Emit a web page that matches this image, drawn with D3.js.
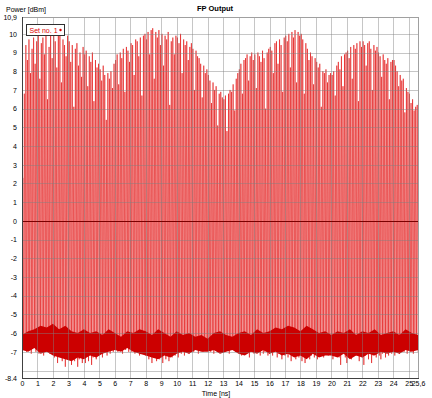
<!DOCTYPE html>
<html>
<head>
<meta charset="utf-8">
<script src="https://cdn.jsdelivr.net/npm/d3@7"></script>
<style>
  body { margin: 0; background: #fff; }
  svg { display: block; font-family: "Liberation Sans", Arial, sans-serif; }
</style>
</head>
<body>
<svg id="chart" width="432" height="398"></svg>
<script>
// Chart data
// -----------------------------------

// pulse peaks [dBm], one every 0.1 ns starting at 0.05 ns (one row per ns)
var peaks = [
  2.3, 6.8, 9.4, 8.6, 9.7, 7.9, 9.2, 9.8, 8.4, 9.6,
  9.9, 7.6, 9.5, 9.8, 8.9, 10.0, 6.5, 9.3, 9.9, 8.7,
  10.1, 9.6, 8.2, 9.9, 10.2, 7.4, 9.7, 9.4, 8.8, 9.9,
  9.6, 8.5, 9.4, 6.1, 9.2, 9.5, 8.3, 9.0, 7.7, 9.3,
  8.9, 9.1, 7.2, 8.8, 8.5, 9.0, 6.4, 8.6, 8.2, 8.4,
  8.1, 7.5, 8.3, 7.8, 5.4, 7.9, 7.6, 8.0, 7.1, 8.4,
  8.6, 8.9, 7.3, 9.0, 8.7, 9.2, 6.9, 9.3, 9.1, 8.5,
  9.5, 9.4, 7.8, 9.7, 9.6, 8.8, 9.8, 6.7, 9.9, 10.0,
  9.7, 10.1, 8.9, 10.2, 10.3, 7.6, 10.1, 9.8, 10.2, 9.4,
  10.0, 8.3, 9.9, 9.7, 10.1, 6.2, 9.6, 9.8, 8.9, 9.9,
  9.8, 9.5, 10.0, 7.9, 9.7, 9.4, 9.6, 8.6, 9.3, 9.5,
  9.2, 7.0, 9.1, 8.8, 8.7, 8.4, 6.6, 8.3, 7.9, 8.1,
  7.8, 7.5, 6.3, 7.4, 7.0, 7.2, 5.1, 6.8, 6.9, 6.6,
  6.5, 6.7, 4.8, 6.8, 7.0, 6.9, 7.3, 5.9, 7.6, 7.9,
  8.1, 8.4, 6.8, 8.6, 8.7, 8.9, 7.5, 8.8, 9.0, 8.6,
  8.9, 7.1, 9.0, 8.8, 8.5, 9.1, 8.7, 6.0, 9.0, 9.2,
  9.3, 9.1, 7.9, 9.5, 9.6, 8.4, 9.7, 9.4, 6.9, 9.8,
  9.9, 9.6, 10.0, 8.2, 10.1, 9.8, 10.2, 7.4, 10.1, 9.9,
  10.0, 9.7, 6.8, 9.5, 9.2, 8.6, 9.0, 8.8, 7.3, 8.7,
  8.5, 8.2, 8.4, 6.1, 8.0, 7.9, 8.1, 7.4, 7.8, 7.9,
  7.8, 8.0, 6.7, 8.3, 8.5, 8.1, 8.8, 7.2, 8.9, 9.0,
  9.1, 8.7, 9.3, 7.6, 9.4, 9.2, 9.5, 6.4, 9.6, 9.3,
  9.6, 9.4, 8.3, 9.5, 9.6, 9.2, 7.0, 9.4, 9.1, 9.3,
  9.0, 8.8, 7.7, 8.9, 8.6, 8.4, 8.7, 6.5, 8.5, 8.6,
  8.6, 8.3, 8.0, 7.2, 7.8, 7.5, 7.6, 5.8, 7.1, 6.9,
  6.8, 6.3, 6.5, 5.9, 6.1, 6.2
];

// troughs between pulses [dBm], one every 0.1 ns from 0 to 25.6 ns
var troughs = [
  -6.6, -6.9, -6.4, -7.0, -6.7, -6.5, -7.1, -6.8, -6.6, -7.0,
  -6.8, -7.1, -6.7, -6.9, -7.2, -6.6, -7.0, -6.8, -7.1, -6.9,
  -7.0, -7.3, -7.1, -7.6, -7.2, -7.0, -7.5, -7.3, -7.8, -7.1,
  -7.4, -7.2, -7.7, -7.0, -7.5, -7.3, -7.8, -7.4, -7.1, -7.6,
  -7.3, -7.6, -7.2, -7.5, -7.0, -7.7, -7.3, -7.1, -7.4, -7.2,
  -7.1, -6.9, -7.3, -7.0, -6.8, -7.2, -6.9, -7.1, -6.7, -7.0,
  -6.9, -6.6, -7.0, -6.8, -6.5, -7.1, -6.7, -6.9, -6.6, -7.0,
  -6.8, -7.0, -6.7, -7.1, -6.9, -6.6, -7.2, -6.8, -7.0, -6.9,
  -7.2, -6.9, -7.4, -7.1, -7.6, -7.3, -7.0, -7.5, -7.2, -7.4,
  -7.3, -7.6, -7.1, -7.4, -7.0, -7.5, -7.2, -7.3, -6.9, -7.2,
  -7.0, -7.3, -6.9, -7.1, -6.8, -7.2, -7.0, -6.8, -7.1, -6.9,
  -6.7, -7.0, -6.8, -6.6, -7.1, -6.9, -6.7, -7.0, -6.8, -6.6,
  -6.9, -6.7, -7.0, -6.8, -7.1, -6.6, -6.9, -7.0, -6.7, -6.8,
  -7.0, -6.8, -6.6, -6.9, -7.1, -6.7, -6.9, -6.8, -7.0, -6.7,
  -7.0, -6.8, -7.2, -6.9, -6.7, -7.1, -6.9, -7.3, -7.0, -6.8,
  -7.1, -6.9, -7.0, -6.8, -7.2, -6.9, -7.1, -7.0, -6.8, -7.2,
  -7.1, -6.9, -7.2, -7.0, -6.8, -7.3, -7.1, -6.9, -7.4, -7.0,
  -7.2, -7.0, -7.3, -7.1, -7.5, -6.9, -7.2, -7.4, -7.0, -7.3,
  -7.2, -7.5, -7.1, -7.6, -7.3, -7.0, -7.4, -7.2, -6.9, -7.3,
  -7.1, -7.4, -7.0, -7.2, -6.9, -7.3, -7.1, -7.0, -7.2, -6.9,
  -7.1, -7.4, -7.0, -7.2, -6.9, -7.3, -7.7, -7.1, -7.0, -7.3,
  -7.6, -7.2, -7.0, -7.4, -7.1, -6.9, -7.2, -7.0, -7.5, -7.1,
  -7.3, -7.7, -7.2, -7.0, -7.4, -7.1, -7.6, -7.2, -6.9, -7.3,
  -7.0, -7.2, -7.4, -7.1, -6.9, -7.3, -7.0, -7.2, -6.8, -7.1,
  -6.9, -7.2, -7.0, -6.8, -7.1, -6.9, -6.7, -7.0, -6.8, -7.1,
  -6.9, -7.0, -6.8, -7.1, -6.9, -6.7, -7.0
];

// noise floor band edges [dBm], one every 0.4 ns from 0 to 25.6 ns
var bandTop = [
  -6.1, -5.9, -5.8, -5.6, -5.7, -5.5, -5.8, -5.6, -5.9, -6.0,
  -5.8, -6.0, -5.9, -6.1, -5.8, -6.0, -6.2, -5.9, -6.0, -5.8,
  -5.9, -6.1, -5.8, -6.0, -6.2, -5.9, -6.1, -6.0, -6.2, -6.1,
  -6.3, -6.0, -5.9, -6.1, -6.2, -6.0, -5.9, -6.1, -5.8, -6.0,
  -5.9, -5.7, -5.8, -5.6, -5.7, -5.9, -5.6, -5.8, -6.0, -5.9,
  -6.1, -5.9, -6.0, -5.8, -6.1, -5.9, -6.0, -5.8, -6.1, -6.0,
  -5.9, -6.1, -5.8, -6.0, -6.1
];
var bandBottom = [
  -6.9, -7.0, -6.8, -7.1, -7.0, -7.2, -7.3, -7.4, -7.5, -7.3,
  -7.4, -7.2, -7.3, -7.1, -7.0, -6.9, -7.0, -6.8, -7.0, -7.1,
  -7.2, -7.3, -7.4, -7.2, -7.3, -7.1, -7.0, -7.1, -6.9, -7.0,
  -7.0, -6.9, -7.1, -7.0, -6.9, -7.1, -7.2, -7.0, -7.1, -6.9,
  -7.1, -7.0, -7.2, -7.1, -7.3, -7.2, -7.4, -7.1, -7.3, -7.2,
  -7.2, -7.3, -7.1, -7.4, -7.2, -7.3, -7.1, -7.2, -7.0, -7.1,
  -7.0, -7.1, -6.9, -7.0, -6.9
];

var xTicks = [0, 1, 2, 3, 4, 5, 6, 7, 8, 9, 10, 11, 12, 13, 14, 15, 16, 17, 18, 19, 20, 21, 22, 23, 24, 25, 25.6];
var xTickLabels = ["0", "1", "2", "3", "4", "5", "6", "7", "8", "9", "10", "11", "12", "13", "14", "15", "16", "17", "18", "19", "20", "21", "22", "23", "24", "25", "25,6"];
var yTicks = [10.9, 10, 9, 8, 7, 6, 5, 4, 3, 2, 1, 0, -1, -2, -3, -4, -5, -6, -7, -8.4];
var yTickLabels = ["10,9", "10", "9", "8", "7", "6", "5", "4", "3", "2", "1", "0", "-1", "-2", "-3", "-4", "-5", "-6", "-7", "-8.4"];
var yGrid = [10, 9, 8, 7, 6, 5, 4, 3, 2, 1, -1, -2, -3, -4, -5, -6, -7, -8];

var pulseStep = 0.1, bandStep = 0.4;

// Layout
// ------
var svg = d3.select("#chart"),
    margin = {top: 17, right: 14, bottom: 20, left: 22},
    width = 432 - margin.left - margin.right,
    height = 398 - margin.top - margin.bottom;

var x = d3.scaleLinear().domain([0, 25.6]).range([margin.left, margin.left + width]);
var y = d3.scaleLinear().domain([-8.4, 10.9]).range([margin.top + height, margin.top]);

svg.append("rect").attr("width", 432).attr("height", 398).attr("fill", "#fff");

// Data
// ----
svg.append("clipPath").attr("id", "plot")
  .append("rect").attr("x", margin.left).attr("y", margin.top).attr("width", width).attr("height", height);

var plot = svg.append("g").attr("clip-path", "url(#plot)");

// zig-zag through trough, peak, trough, ...
var pts = [];
troughs.forEach(function(v, i) {
  pts.push([i * pulseStep, v]);
  if (i < peaks.length) pts.push([i * pulseStep + pulseStep / 2, peaks[i]]);
});

plot.append("path")
    .datum(pts)
    .attr("d", d3.line().x(function(d) { return x(d[0]); }).y(function(d) { return y(d[1]); }))
    .attr("fill", "none")
    .attr("stroke", "#e00000")
    .attr("stroke-width", 0.55);

var band = d3.area()
    .x(function(d, i) { return x(i * bandStep); })
    .y0(function(d, i) { return y(bandBottom[i]); })
    .y1(function(d) { return y(d); });

plot.append("path")
    .datum(bandTop)
    .attr("d", band)
    .attr("fill", "#cc0000");

// Grid (on top, semi-transparent)
// -------------------------------
var grid = svg.append("g").attr("stroke", "#808080").attr("stroke-opacity", 0.45).attr("shape-rendering", "crispEdges");

grid.selectAll(".vx").data(d3.range(1, 26)).enter().append("line")
    .attr("x1", function(d) { return Math.round(x(d)) + 0.5; })
    .attr("x2", function(d) { return Math.round(x(d)) + 0.5; })
    .attr("y1", margin.top).attr("y2", margin.top + height);

grid.selectAll(".hy").data(yGrid).enter().append("line")
    .attr("y1", function(d) { return Math.round(y(d)) + 0.5; })
    .attr("y2", function(d) { return Math.round(y(d)) + 0.5; })
    .attr("x1", margin.left).attr("x2", margin.left + width);

// zero line
svg.append("line")
    .attr("x1", margin.left).attr("x2", margin.left + width)
    .attr("y1", Math.round(y(0)) + 0.5).attr("y2", Math.round(y(0)) + 0.5)
    .attr("stroke", "#7a0000").attr("shape-rendering", "crispEdges");

// Frame
// -----
svg.append("rect")
    .attr("x", margin.left + 0.5).attr("y", margin.top + 0.5)
    .attr("width", width).attr("height", height)
    .attr("fill", "none").attr("stroke", "#a0a0a0").attr("shape-rendering", "crispEdges");

svg.append("path")
    .attr("d", "M" + (margin.left + 0.5) + "," + margin.top + "V" + (margin.top + height + 0.5) + "H" + (margin.left + width + 1))
    .attr("fill", "none").attr("stroke", "#404040").attr("shape-rendering", "crispEdges");

// Axes
// ----
var xAxis = d3.axisBottom(x).tickValues(xTicks).tickSize(0).tickPadding(3)
    .tickFormat(function(d, i) { return xTickLabels[i]; });
svg.append("g")
    .attr("transform", "translate(0," + (margin.top + height) + ")")
    .call(xAxis)
    .call(function(g) { g.select(".domain").remove(); })
    .selectAll("text").attr("font-size", 7).attr("fill", "#000")
    .attr("font-family", "Liberation Sans, Arial, sans-serif");

var yAxis = d3.axisLeft(y).tickValues(yTicks).tickSize(0).tickPadding(5)
    .tickFormat(function(d, i) { return yTickLabels[i]; });
svg.append("g")
    .attr("transform", "translate(" + margin.left + ",0)")
    .call(yAxis)
    .call(function(g) { g.select(".domain").remove(); })
    .selectAll("text").attr("font-size", 7).attr("fill", "#000")
    .attr("font-family", "Liberation Sans, Arial, sans-serif");

// Titles
// ------
svg.append("text").attr("x", 215).attr("y", 11).attr("text-anchor", "middle")
    .attr("font-size", 7.5).attr("font-weight", "bold").text("FP Output");
svg.append("text").attr("x", 6).attr("y", 12)
    .attr("font-size", 7).text("Power [dBm]");
svg.append("text").attr("x", 216).attr("y", 396).attr("text-anchor", "middle")
    .attr("font-size", 7).text("Time [ns]");

// Legend
// ------
var legend = svg.append("g").attr("transform", "translate(26.5,24.5)");
legend.append("rect").attr("width", 38).attr("height", 11)
    .attr("fill", "#fff").attr("stroke", "#303030");
legend.append("text").attr("x", 3).attr("y", 8.3)
    .attr("font-size", 7).attr("fill", "#dd0000").text("Set no. 1");
legend.append("circle").attr("cx", 34).attr("cy", 5.5).attr("r", 1.2).attr("fill", "#dd0000");
</script>
</body>
</html>
